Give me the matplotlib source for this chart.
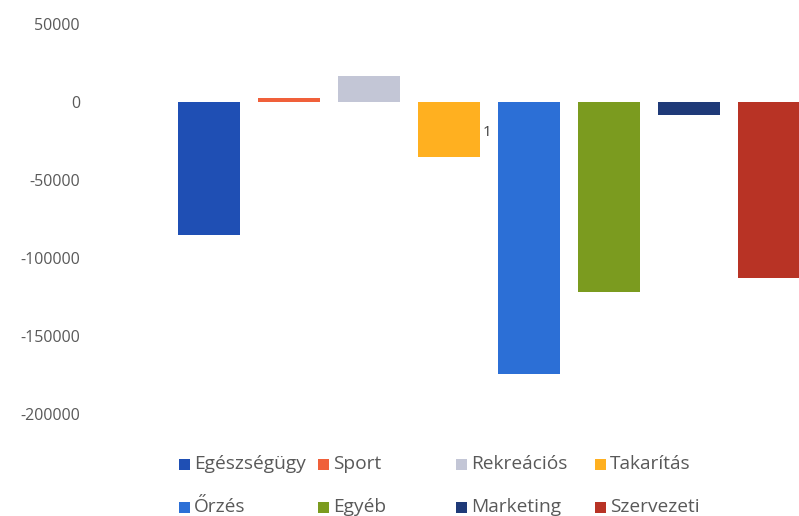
# Budget balance per area, bar chart with two-row legend underneath

import matplotlib.pyplot as plt
from matplotlib.patches import Rectangle

categories = ['Egészségügy', 'Sport', 'Rekreációs', 'Takarítás',
              'Őrzés', 'Egyéb', 'Marketing', 'Szervezeti']
values = [-85500, 2500, 16500, -35000, -174500, -121500, -8300, -113000]
colors = ['#1f4fb4', '#f0603a', '#c3c6d6', '#ffb020',
          '#2c6fd6', '#7b9b1f', '#1f3a78', '#b83325']
yticks = [50000, 0, -50000, -100000, -150000, -200000]

plt.rcParams['font.family'] = ['Open Sans', 'DejaVu Sans']
text_color = '#595959'

W, H = 799, 516
fig = plt.figure(figsize=(W / 100, H / 100), dpi=100)
# right edge of the plot area runs past the figure border
ax = fig.add_axes([169 / W, 1 - 414 / H, 640 / W, 390 / H])

x = range(len(categories))
ax.bar(x, values, width=0.77, color=colors)
ax.set_xlim(-0.5, len(categories) - 0.5)
ax.set_ylim(-200000, 50000)
ax.set_yticks(yticks)
ax.set_yticklabels([str(t) for t in yticks], color=text_color, fontsize=11.5)
ax.tick_params(axis='y', length=0, pad=64)
ax.set_xticks([])
for s in ax.spines.values():
    s.set_visible(False)

# stray data label beside the Takarítás bar
ax.text(3 + 0.42, values[3] / 2 - 2000, '1', fontsize=11, color='#404040',
        va='center', ha='left')

# legend entries laid out by hand: 4 columns, 2 rows
col_x = [179, 318, 456, 595]
row_y = [464, 507]
for i, (name, c) in enumerate(zip(categories, colors)):
    px = col_x[i % 4]
    py = row_y[i // 4]
    fig.patches.append(Rectangle((px / W, 1 - (py + 6) / H), 11 / W, 11 / H,
                                 facecolor=c, transform=fig.transFigure))
    fig.text((px + 15) / W, 1 - py / H, name, fontsize=13.8,
             color=text_color, va='center', ha='left')

fig.savefig('out.png', dpi=100)
